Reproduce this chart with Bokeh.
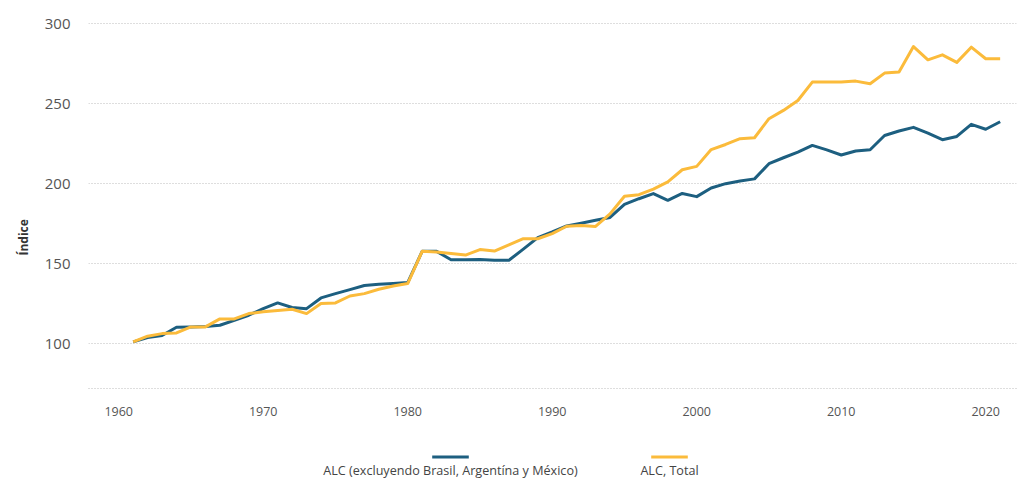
from bokeh.plotting import figure
from bokeh.models import Range1d, FixedTicker, Title
from bokeh.layouts import column
from bokeh.embed import file_html
from bokeh.resources import INLINE
from bokeh.core.properties import value

# ---------------- data ----------------
years = list(range(1961, 2022))

alc_excl = [101.0, 103.7, 105.0, 110.2, 110.4, 110.6, 111.4, 114.5, 117.7, 121.8,
            125.4, 122.5, 121.8, 128.5, 131.2, 133.7, 136.3, 137.0, 137.5, 138.1,
            157.6, 157.6, 152.4, 152.4, 152.5, 152.0, 152.0, 159.0, 166.2, 169.7,
            173.5, 175.2, 177.0, 178.8, 187.0, 190.5, 193.7, 189.5, 193.8, 191.8,
            197.2, 199.9, 201.6, 202.9, 212.4, 216.1, 219.6, 223.8, 221.0, 217.8,
            220.3, 221.1, 230.0, 232.8, 235.1, 231.5, 227.4, 229.4, 237.0, 233.9,
            238.6]

alc_total = [101.0, 104.6, 106.2, 106.6, 110.4, 110.4, 115.4, 115.4, 118.7, 119.8,
             120.6, 121.4, 118.7, 125.0, 125.4, 129.7, 131.2, 133.9, 136.0, 137.5,
             157.6, 157.2, 156.2, 155.3, 158.7, 157.8, 161.6, 165.5, 165.5, 168.7,
             173.3, 173.8, 173.2, 181.0, 192.0, 193.0, 196.5, 201.0, 208.6, 210.7,
             221.2, 224.4, 228.0, 228.6, 240.5, 245.7, 251.9, 263.4, 263.4, 263.4,
             264.0, 262.3, 269.0, 269.7, 285.6, 277.3, 280.4, 275.7, 285.2, 278.0,
             278.0]

series_names = ["ALC (excluyendo Brasil, Argentína y México)", "ALC, Total"]
series_colors = ["#1d5f80", "#fbbb3b"]

x_ticks = [1960, 1970, 1980, 1990, 2000, 2010, 2020]
y_ticks = [100, 150, 200, 250, 300]
y_title = "Índice"

FONT = "Open Sans"
GRID = "#bdbdbd"

# ---------------- main chart ----------------
p = figure(width=1017, height=432,
           x_range=Range1d(1957.91, 2022.13), y_range=Range1d(71.9, 305.0),
           output_backend="svg", toolbar_location=None,
           min_border_left=88, min_border_right=1, min_border_top=15, min_border_bottom=44)
p.outline_line_color = None
p.background_fill_color = "white"
p.border_fill_color = "white"

p.line(years, alc_excl, line_color=series_colors[0], line_width=3, line_join="round")
p.line(years, alc_total, line_color=series_colors[1], line_width=3, line_join="round")

p.xgrid.visible = False
p.ygrid.ticker = FixedTicker(ticks=y_ticks)
p.ygrid.grid_line_color = GRID
p.ygrid.grid_line_dash = "1 2"
p.ygrid.grid_line_width = 1

p.yaxis.ticker = FixedTicker(ticks=y_ticks)
p.yaxis.axis_line_color = None
p.yaxis.major_tick_line_color = None
p.yaxis.minor_tick_line_color = None
p.yaxis.major_label_standoff = 12
p.yaxis.major_label_text_font = FONT
p.yaxis.major_label_text_font_size = "15px"
p.yaxis.major_label_text_color = "#555555"

p.xaxis.ticker = FixedTicker(ticks=x_ticks)
p.xaxis.axis_line_color = GRID
p.xaxis.axis_line_dash = "1 2"
p.xaxis.major_tick_line_color = None
p.xaxis.minor_tick_line_color = None
p.xaxis.major_label_standoff = 12
p.xaxis.major_label_text_font = FONT
p.xaxis.major_label_text_font_size = "12.5px"
p.xaxis.major_label_text_color = "#555555"

p.add_layout(Title(text=y_title, align="left", offset=133, standoff=20,
                   text_font=FONT, text_font_size="12px",
                   text_font_style="bold", text_color="#333333"), "left")

# ---------------- legend strip (frame aligned with the chart frame: 88..1016 px) ----------------
lg = figure(width=1017, height=46, x_range=Range1d(88, 1016), y_range=Range1d(46, 0),
            output_backend="svg", toolbar_location=None,
            x_axis_location=None, y_axis_location=None, min_border=0)
lg.outline_line_color = None
lg.grid.visible = False
lg.background_fill_color = "white"
lg.border_fill_color = "white"

lg.segment(x0=[431.7, 650.7], y0=[24.5, 24.5], x1=[468.3, 687.3], y1=[24.5, 24.5],
           line_color=series_colors, line_width=3)
lg.text(x=[450, 669], y=[38, 38], text=series_names,
        text_align="center", text_baseline="middle",
        text_font=value(FONT), text_font_size="12.6px", text_color="#444444")

layout = column(p, lg)
open("out.html", "w", encoding="utf-8").write(file_html(layout, INLINE))
